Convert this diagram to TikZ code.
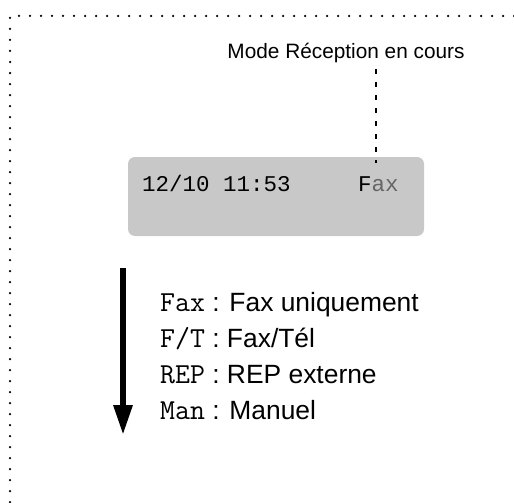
\documentclass[tikz,border=0pt]{standalone}
\usepackage{fontspec}
\setmainfont{Liberation Sans}
\newfontfamily\lcdfont{Liberation Mono}
\newcommand\codefont{\ttfamily\fontsize{29}{32}\selectfont}
\usetikzlibrary{arrows.meta}
\tikzset{
  dotline/.style={line width=2.5pt, line cap=round, dash pattern=on 0pt off 11pt, black},
  dashline/.style={line width=2pt, dash pattern=on 5pt off 8pt, black},
  lcd/.style={fill=lcdgray, rounded corners=7pt, draw=none, minimum width=296pt, minimum height=79pt, inner sep=0pt},
  lcdtext/.style={anchor=base west, inner sep=0pt, font=\lcdfont\fontsize{22.5}{26}\selectfont},
  label/.style={anchor=base, inner sep=0pt, font=\fontsize{20.8}{25}\selectfont},
  row/.style={anchor=base west, inner sep=0pt, font=\fontsize{26.4}{30}\selectfont},
  bigarrow/.style={line width=6pt, -{Triangle[width=18pt,length=30pt]}}
}
\definecolor{lcdgray}{RGB}{200,200,200}
\begin{document}
\begin{tikzpicture}[x=1pt,y=-1pt]
\useasboundingbox (0,0) rectangle (514,503);
\coordinate (fr) at (514,16);
\coordinate (fc) at (10,16);
\coordinate (fb) at (10,503);
\draw[dotline] (fr) -- (fc) -- (fb);

\node[label] (mode) at (346,59) {Mode Réception en cours};

\node[lcd] (lcd) at (276,196.5) {};
\node[lcdtext] (time) at (142,191) {12/10 11:53};
\node[lcdtext] (mfax) at (358,191) {F\textcolor{black!60}{ax}};

\coordinate (dtop) at (376,69);
\coordinate (dbot) at (376,163);
\draw[dashline] (dtop) -- (dbot);

\coordinate (atop) at (123,268);
\coordinate (abot) at (123,435);
\draw[bigarrow] (atop) -- (abot);

\node[row] (r1) at (160,311) {{\codefont Fax} : Fax uniquement};
\node[row] (r2) at (160,347) {{\codefont F/T} : Fax/Tél};
\node[row] (r3) at (160,383) {{\codefont REP} : REP externe};
\node[row] (r4) at (160,419) {{\codefont Man} : Manuel};
\end{tikzpicture}
\end{document}
